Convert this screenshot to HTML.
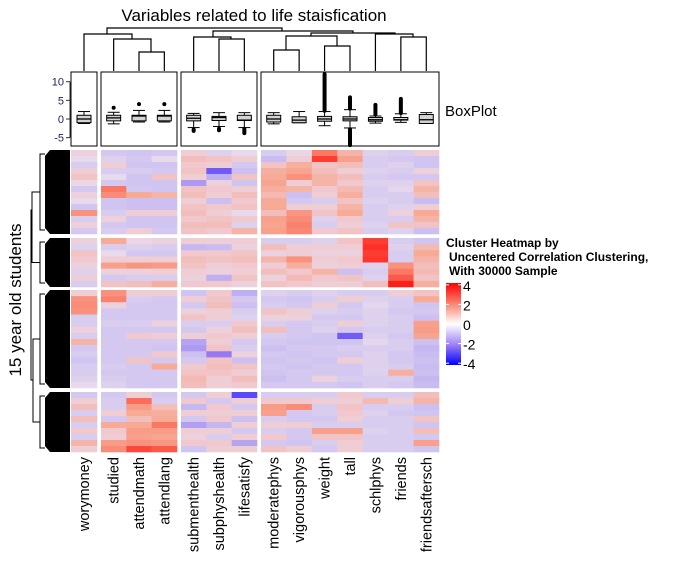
<!DOCTYPE html>
<html><head><meta charset="utf-8">
<style>
html,body{margin:0;padding:0;background:#fff;}
svg{display:block;font-family:"Liberation Sans",Arial,sans-serif;}
</style></head>
<body>
<svg id="chart" width="679" height="571" viewBox="0 0 679 571" xmlns="http://www.w3.org/2000/svg">
<text x="254" y="21" font-size="17" text-anchor="middle">Variables related to life staisfication</text>
<g id="coldend" stroke="#000" stroke-width="1.2" fill="none"></g>
<g id="boxes"></g>
<text x="445" y="116" font-size="15">BoxPlot</text>
<g id="heat"></g>
<g id="rowdend"></g>
<text transform="translate(21,300) rotate(-90)" font-size="17" text-anchor="middle">15 year old students</text>
<g id="collabels"></g>
<g>
<text x="446" y="247" font-size="12" font-weight="bold">Cluster Heatmap by</text>
<text x="449" y="261" font-size="12" font-weight="bold">Uncentered Correlation Clustering,</text>
<text x="449" y="275" font-size="12" font-weight="bold">With 30000 Sample</text>
<defs><linearGradient id="lg" x1="0" y1="0" x2="0" y2="1">
<stop offset="0" stop-color="#ff0000"/><stop offset="0.25" stop-color="#fa8270"/><stop offset="0.5" stop-color="#ffffff"/><stop offset="0.75" stop-color="#a082f5"/><stop offset="1" stop-color="#0000ff"/></linearGradient></defs>
<rect x="446" y="283" width="15" height="82" fill="url(#lg)"/>
<g id="legticks"></g>
</g>
</svg>
<script>
const columns=["worymoney","studied","attendmath","attendlang","submenthealth","subphyshealth","lifesatisfy","moderatephys","vigorousphys","weight","tall","schlphys","friends","friendsaftersch"];
const colGroups=[0,1,1,1,2,2,2,3,3,3,3,3,3,3];
const rowGroupSizes=[14,8,16,10];
const legendTicks=[4,2,0,-2,-4];
const boxTicks=[10,5,0,-5];
// boxplot stats per column: [whiskerLow, q1, median, q3, whiskerHigh]
const boxStats=[[-1.2,-1,0,1,2],[-1.3,-0.5,0.3,1,1.8],[-0.8,-0.5,0.8,1,2.3],[-0.8,-0.5,0.8,1,2.3],[-2.3,-0.5,0.2,1,1.5],[-2,-0.4,0.4,0.7,1.7],[-2.3,-0.4,-0.3,1,1.7],[-1.3,-0.8,0,1,1.7],[-1,-1,-0.3,0.6,2],[-1.8,-0.6,0,0.7,2],[-2.4,-0.5,0,0.6,2.5],[-1.1,-0.6,-0.2,0.4,0.8],[-0.9,-0.3,-0.2,0.4,1.4],[-1.2,-1.2,-0.2,1.2,1.7]];
// outlier ranges per column: list of [lo,hi]
const outliers=[[],[[3,3]],[[4,4]],[[4,4]],[[-3.2,-2.8]],[[-3,-2.6]],[[-3.8,-2.6]],[],[],[[2.2,12]],[[2.8,5.8],[-7,-2.8]],[[1.2,3.8]],[[1.6,5.4]],[]];
// heatmap values: one array per column, rows ordered by group (14,8,16,10)
const heatValues=[
[0.2,0,-0.3,0.3,0.5,0.1,-0.4,0.2,0,-0.5,1.5,-0.3,0.2,-0.4, 0.2,-0.2,0.5,0.4,0.2,-0.2,0.3,-0.3, 0.3,1.5,1.6,1.5,-0.3,-0.3,0.2,-0.3,0.8,-0.4,-0.3,-0.5,-0.3,-0.3,-0.2,0, -0.4,0.3,0.6,-0.3,0.6,-0.3,0.4,-0.3,0.8,0.3],
[-0.4,-0.2,0.3,-0.3,0,-0.4,2,1.6,-0.5,-0.5,-0.3,0.2,-0.4,-0.3, 1,-0.3,0,0.3,1.2,0.2,-0.4,0.5, 1.5,1.8,0.2,-0.4,-0.4,-0.3,-0.4,-0.4,-0.4,-0.4,-0.4,-0.4,-0.3,-0.4,-0.3,-0.2, -0.4,-0.3,-0.3,0.3,-0.4,1,0.4,0.3,1.3,1.6],
[-0.5,-0.4,-0.5,-0.3,-0.5,-0.5,-0.4,1.0,-0.6,-0.6,0.3,-0.5,-0.5,0.3, 0.1,-0.2,-0.4,0.3,1.4,0.2,-0.3,0.6, 0.3,-0.3,-0.4,-0.4,-0.4,-0.3,-0.4,0.4,-0.4,-0.4,-0.4,0.5,-0.4,-0.4,-0.4,-0.4, 0.3,2.2,1.3,1,0.6,1,1.3,1.2,1.5,2.8],
[-0.4,0,-0.5,-0.4,0.5,-0.5,-0.5,0.8,-0.6,-0.6,0.3,-0.5,-0.5,-0.4, 0.2,-0.3,-0.4,0.3,1.3,0.3,-0.3,0.9, 0.3,-0.4,-0.4,-0.4,-0.4,0.2,-0.4,0.3,-0.4,-0.5,0.4,-0.4,1,-0.4,-0.4,-0.4, -0.4,-0.3,0.6,0.9,1,2,1.3,1.1,1.4,2.5],
[0.3,0.6,0.4,0.5,0.3,-1.4,0.5,0.6,0.3,0.5,0.6,0.4,0.6,0.5, 0.3,-0.8,0.4,0.6,0.5,0.3,0.2,0.4, -0.5,0.3,-0.4,0.2,0.5,-0.3,-0.4,0.3,-1.2,-1.4,-0.6,-0.4,0.4,0.5,0.7,0.6, -0.4,0.4,-0.8,0.3,-0.4,-1.3,0.3,0.2,0.4,-0.5],
[-0.2,0.5,0.3,-2.5,-1,0.2,0.4,0.3,-0.6,0.4,0.3,0.5,0.6,0.4, 0.3,-0.7,0.4,0.5,0.3,0.2,-1,0.4, 0.4,0.5,0.6,0.3,0.3,-0.3,0.2,0.4,0.3,0.5,-2,0.5,0.6,0.5,0.3,0.3, 0.3,-0.4,0.4,0.3,0.4,-0.8,0.3,-0.3,0.4,0.3],
[0,0.3,-0.4,-0.6,0.5,-0.5,0.3,0.6,0.4,0.5,0,0.4,-0.2,0.8, 0.3,0.2,0.5,0.6,0.4,0.3,0.5,0.2, -1,-0.4,-0.6,-0.3,-0.2,0.4,0.6,0.3,-0.4,-0.3,0.2,-0.6,0.5,0.3,0.6,0.4, -2.8,0.3,-0.4,0.3,-0.6,0.3,-0.4,0.3,-1.2,0.3],
[-0.3,-0.7,0.5,0.9,1,1.1,0.9,0.7,1,1,0.6,1.2,1.1,1.2, -0.3,0.6,0.2,0.8,0.3,0.6,0.2,0.5, -0.2,-0.4,-0.3,0.5,0.2,-0.3,0.6,-0.3,-0.4,-0.6,-0.4,-0.5,-0.4,-0.5,-0.6,-0.4, -0.3,0.4,1.3,1.2,-0.3,0.3,-0.3,0.4,-0.4,0.5],
[0.1,0.3,0.9,1.1,1.5,0.3,0.8,-0.6,-0.4,0.3,1.4,1.6,1.8,1.7, -0.3,0.3,0.3,1.5,0.9,0.4,0.7,0.4, -0.3,-0.5,-0.4,0.3,0.2,-0.4,-0.4,-0.4,-0.5,-0.4,-0.5,-0.4,-0.5,-0.4,-0.4,-0.4, -0.3,0.4,1.6,-0.4,-0.4,0.3,-0.4,-0.4,-0.5,0.3],
[2,3,0.5,0.6,0.8,0.8,0.4,0.3,-0.3,0.3,0.5,-0.2,-0.3,0.4, -0.2,0.3,0.2,0.3,0.2,0.8,0.4,0.3, -0.2,-0.3,0.3,-0.2,-0.4,-0.3,-0.2,-0.5,-0.5,-0.4,-0.4,-0.5,-0.4,-0.4,0.2,-0.4, -0.3,0.3,-0.3,-0.3,-0.4,-0.3,1.2,0.5,-0.3,-0.4],
[0.8,1.2,0.6,0.3,0.6,0.4,0.7,0.9,0.5,0.8,1,0.4,0.3,0.5, 0.5,0.3,0.2,0.4,0.3,-0.6,0.5,0.3, -0.3,0.3,-0.4,-0.3,-0.4,0.3,-0.4,-2.5,-0.5,-0.3,-0.4,0.3,-0.4,-0.4,-0.3,-0.5, 0.4,0.3,0.5,0.4,0.3,-0.3,1.2,0.5,0.3,0.3],
[-0.2,-0.3,-0.3,-0.2,-0.3,-0.2,-0.3,-0.3,-0.2,-0.3,-0.3,-0.3,-0.2,-0.3, 3,3.2,3,3.1,-0.2,-0.3,-0.2,0.6, -0.3,-0.2,-0.1,-0.2,-0.2,-0.2,-0.3,-0.2,-0.1,-0.3,-0.2,-0.2,-0.2,-0.2,-0.3,-0.3, -0.3,0.7,-0.3,-0.2,-0.3,-0.3,-0.2,-0.3,-0.3,-0.3],
[-0.3,-0.4,-0.2,-0.3,-0.4,-0.2,-0.1,-0.3,-0.3,-0.2,0.2,-0.3,0.5,-0.2, -0.3,-0.2,-0.3,-0.3,1.5,2,2.5,3.5, 0.3,-0.3,-0.3,-0.4,-0.3,-0.3,-0.3,-0.4,-0.3,-0.3,-0.4,-0.4,-0.3,0.9,-0.3,-0.4, -0.3,0.3,-0.3,-0.4,-0.3,-0.3,-0.3,-0.3,-0.3,-0.3],
[0.3,-0.5,-0.5,0.2,-0.4,0.5,0.8,0.6,-0.7,0.3,1,0.8,0.5,-0.6, -0.5,0.7,1,0.8,0.6,0.7,0.5,0.9, 0.5,1,-0.5,-0.4,-0.6,1.2,1.3,1.1,-0.6,-0.8,-0.7,-0.6,-0.7,-0.6,-0.8,-0.7, 0.6,0.8,-0.6,-0.5,0.5,-0.5,0.6,-0.4,1.2,-0.5]
];
const NS="http://www.w3.org/2000/svg";
function mk(tag,attrs,parent){const e=document.createElementNS(NS,tag);for(const k in attrs)e.setAttribute(k,attrs[k]);parent.appendChild(e);return e;}
const groupX=[[71,97],[101,177],[181,257],[261,439]];
function colX(i){const g=colGroups[i];const idx=colGroups.slice(0,i).filter(v=>v===g).length;const n=colGroups.filter(v=>v===g).length;const w=(groupX[g][1]-groupX[g][0])/n;return {x:groupX[g][0]+idx*w,w:w,c:groupX[g][0]+(idx+0.5)*w};}
const groupY=[[150,234],[238,287],[290,388],[392,452]];
function rowY(r){let g=0,acc=0;while(r>=acc+rowGroupSizes[g]){acc+=rowGroupSizes[g];g++;}const h=(groupY[g][1]-groupY[g][0])/rowGroupSizes[g];return {y:groupY[g][0]+(r-acc)*h,h:h};}
const anchors=[[-4,[0,0,255]],[-2,[150,120,245]],[-1,[190,175,240]],[-0.4,[212,200,240]],[0,[232,218,236]],[0.4,[240,200,205]],[1,[247,170,150]],[2,[250,120,100]],[4,[255,0,0]]];
function color(v){v=Math.max(-4,Math.min(4,v));for(let i=0;i<anchors.length-1;i++){const a=anchors[i],b=anchors[i+1];if(v>=a[0]&&v<=b[0]){const t=(v-a[0])/(b[0]-a[0]);const c=a[1].map((x,j)=>Math.round(x+(b[1][j]-x)*t));return `rgb(${c})`;}}return "#fff";}
const heat=document.getElementById('heat');
heatValues.forEach((col,ci)=>{const cx=colX(ci);col.forEach((v,ri)=>{const ry=rowY(ri);
const r=mk('rect',{x:cx.x.toFixed(2),y:ry.y.toFixed(2),width:(cx.w+0.3).toFixed(2),height:(ry.h+0.3).toFixed(2),fill:color(v)},heat);

});});
const cl=document.getElementById('collabels');
columns.forEach((name,i)=>{const c=colX(i).c;const t=mk('text',{transform:`translate(${c+5},457) rotate(-90)`,'font-size':'14.5','text-anchor':'end'},cl);t.textContent=name;

});
const bx=document.getElementById('boxes');
function by(v){return 119-v*3.73;}
groupX.forEach((g,gi)=>{const r=mk('rect',{x:g[0],y:72,width:g[1]-g[0],height:74,fill:'none',stroke:'#000','stroke-width':1},bx);

});
boxTicks.forEach(v=>{mk('line',{x1:66,x2:70,y1:by(v),y2:by(v),stroke:'#333'},bx);const t=mk('text',{x:64,y:by(v)+4,'font-size':'11','text-anchor':'end',fill:'#1f1f55'},bx);t.textContent=v;

});
mk('line',{x1:70,x2:70,y1:by(-5),y2:by(10),stroke:'#333'},bx);
boxStats.forEach((s,i)=>{const c=colX(i).c;const g=mk('g',{},bx);


mk('line',{x1:c,x2:c,y1:by(s[0]),y2:by(s[4]),stroke:'#000'},g);
mk('line',{x1:c-6,x2:c+6,y1:by(s[0]),y2:by(s[0]),stroke:'#000'},g);
mk('line',{x1:c-6,x2:c+6,y1:by(s[4]),y2:by(s[4]),stroke:'#000'},g);
mk('rect',{x:c-7,y:by(s[3]),width:14,height:Math.max(1,by(s[1])-by(s[3])),fill:'#d3d3d3',stroke:'#000'},g);
mk('line',{x1:c-7,x2:c+7,y1:by(s[2]),y2:by(s[2]),stroke:'#000','stroke-width':1.3},g);
outliers[i].forEach(o=>{if(o[0]===o[1])mk('circle',{cx:c,cy:by(o[0]),r:2,fill:'#000'},g);else mk('rect',{x:c-2,y:by(o[1])-2,width:4,height:by(o[0])-by(o[1])+4,rx:2,fill:'#000'},g);});});
const cd=document.getElementById('coldend');
function link(x1,x2,yTop,y1,y2){mk('path',{d:`M${x1},${y1}V${yTop}H${x2}V${y2}`},cd);}
const C=i=>colX(i).c;
link(C(2),C(3),52,71,71);
link(C(1),151,39,71,52);
link(C(0),132,34,71,39);
link(C(5),C(6),39,71,71);
link(C(4),231,37,71,39);
link(C(7),C(8),50,71,71);
link(C(9),C(10),46,71,71);
link(286,337,36,50,46);
link(C(12),C(13),37,71,71);
link(C(11),413,34,71,37);
link(311,395,33,36,34);
link(213,353,31,37,33);
link(107,282,28,34,31);
const rd=document.getElementById('rowdend');
groupY.forEach((g,gi)=>{const r=mk('path',{d:`M70,${g[0]}H50L45,${g[0]+6}V${g[1]-6}L50,${g[1]}H70Z`,fill:'#000'},rd);


mk('path',{d:`M45,${g[0]+4}H40V${g[1]-4}H45 M40,${(g[0]+g[1])/2}H34`,stroke:'#000',fill:'none'},rd);});
mk('path',{d:`M34,${(groupY[0][0]+groupY[0][1])/2}H32V${(groupY[1][0]+groupY[1][1])/2}H34 M34,${(groupY[2][0]+groupY[2][1])/2}H33V${(groupY[3][0]+groupY[3][1])/2}H34 M32,210H31V380H33`,stroke:'#000',fill:'none'},rd);
const lt=document.getElementById('legticks');
legendTicks.forEach(v=>{const y=324-v*9.8;mk('line',{x1:446,x2:449,y1:y,y2:y,stroke:'#fff'},lt);mk('line',{x1:458,x2:461,y1:y,y2:y,stroke:'#fff'},lt);const t=mk('text',{x:463,y:y+6,'font-size':'14'},lt);t.textContent=v;

});
</script>
</body></html>
